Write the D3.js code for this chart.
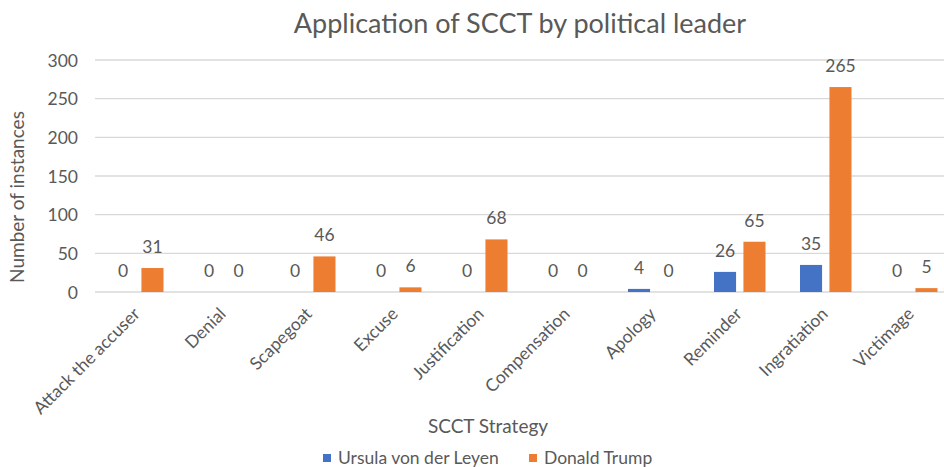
<!DOCTYPE html>
<html><head><meta charset="utf-8">
<script src="https://cdn.jsdelivr.net/npm/d3@7"></script>
<style>body{margin:0;background:#fff;} svg{display:block;} text{font-family:Lato, "Open Sans", sans-serif; fill:#595959;}</style>
</head><body>
<svg id="chart" width="944" height="467"></svg>
<script>
const categories = ["Attack the accuser","Denial","Scapegoat","Excuse","Justification","Compensation","Apology","Reminder","Ingratiation","Victimage"];
const seriesNames = ["Ursula von der Leyen","Donald Trump"];
const vonDerLeyen = [0,0,0,0,0,0,4,26,35,0];
const trump = [31,0,46,6,68,0,0,65,265,5];
const yTicks = [0,50,100,150,200,250,300];
const colors = ["#4472C4","#ED7D31"];
const seriesValues = [vonDerLeyen, trump];

const svg = d3.select("#chart");
const pL = 95, pR = 955, pT = 60, pB = 292;
const x = d3.scaleBand().domain(categories).range([pL, pR]).paddingInner(0).paddingOuter(0);
const xs = d3.scaleBand().domain(seriesNames).range([-19.5, 32]).paddingInner(0.25);
const y = d3.scaleLinear().domain([0,300]).range([pB, pT]);

// gridlines
svg.append("g").selectAll("line").data(yTicks).join("line")
  .attr("x1", pL).attr("x2", pR)
  .attr("y1", d=>y(d)).attr("y2", d=>y(d))
  .attr("stroke", "#D9D9D9").attr("stroke-width", 1.3);

// y axis labels
const yAxis = d3.axisLeft(y).tickValues(yTicks).tickSize(0).tickPadding(0);
const yg = svg.append("g").attr("transform", `translate(${78},0)`).call(yAxis);
yg.select(".domain").remove();
yg.selectAll("text").attr("font-size", 17.5).style("font-family","Lato, sans-serif").attr("fill","#595959").attr("dy","0.35em");

// bars
const groups = svg.append("g").selectAll("g").data(categories).join("g")
  .attr("transform", d=>`translate(${x(d)+x.bandwidth()/2},0)`);
seriesNames.forEach((s, si) => {
  groups.append("rect")
    .attr("x", (d,i)=> xs(s) - 6.5)
    .attr("width", xs.bandwidth())
    .attr("y", (d,i)=> y(seriesValues[si][i]))
    .attr("height", (d,i)=> y(0) - y(seriesValues[si][i]))
    .attr("fill", colors[si]);
  groups.append("text")
    .attr("x", (d,i)=> xs(s) - 6.5 + xs.bandwidth()/2)
    .attr("y", (d,i)=> y(seriesValues[si][i]) - 15)
    .attr("text-anchor","middle").attr("font-size", 17.5)
    .text((d,i)=> seriesValues[si][i]);
});

// x axis category labels
const xAxis = d3.axisBottom(x).tickSize(0).tickPadding(0);
const xg = svg.append("g").attr("transform", `translate(0,${pB})`).call(xAxis);
xg.select(".domain").remove();
xg.selectAll("text").attr("font-size", 17.5).style("font-family","Lato, sans-serif").attr("fill","#595959")
  .attr("text-anchor","end").attr("dy", null).attr("y", 0)
  .attr("transform", "translate(3,23) rotate(-45)");

// title
svg.append("text").attr("x", 520).attr("y", 33).attr("text-anchor","middle").attr("font-size", 27).text("Application of SCCT by political leader");
// axis titles
svg.append("text").attr("x", 488).attr("y", 433).attr("text-anchor","middle").attr("font-size", 19).text("SCCT Strategy");
svg.append("text").attr("transform", "translate(24,197) rotate(-90)").attr("text-anchor","middle").attr("font-size", 19).text("Number of instances");

// legend
const legendX = [323, 529];
const lg = svg.append("g").selectAll("g").data(seriesNames).join("g")
  .attr("transform", (d,i)=>`translate(${legendX[i]},454)`);
lg.append("rect").attr("width", 8).attr("height", 8).attr("fill", (d,i)=>colors[i]);
lg.append("text").attr("x", 15).attr("y", 10).attr("font-size", 17.5).text(d=>d);
</script>
</body></html>
